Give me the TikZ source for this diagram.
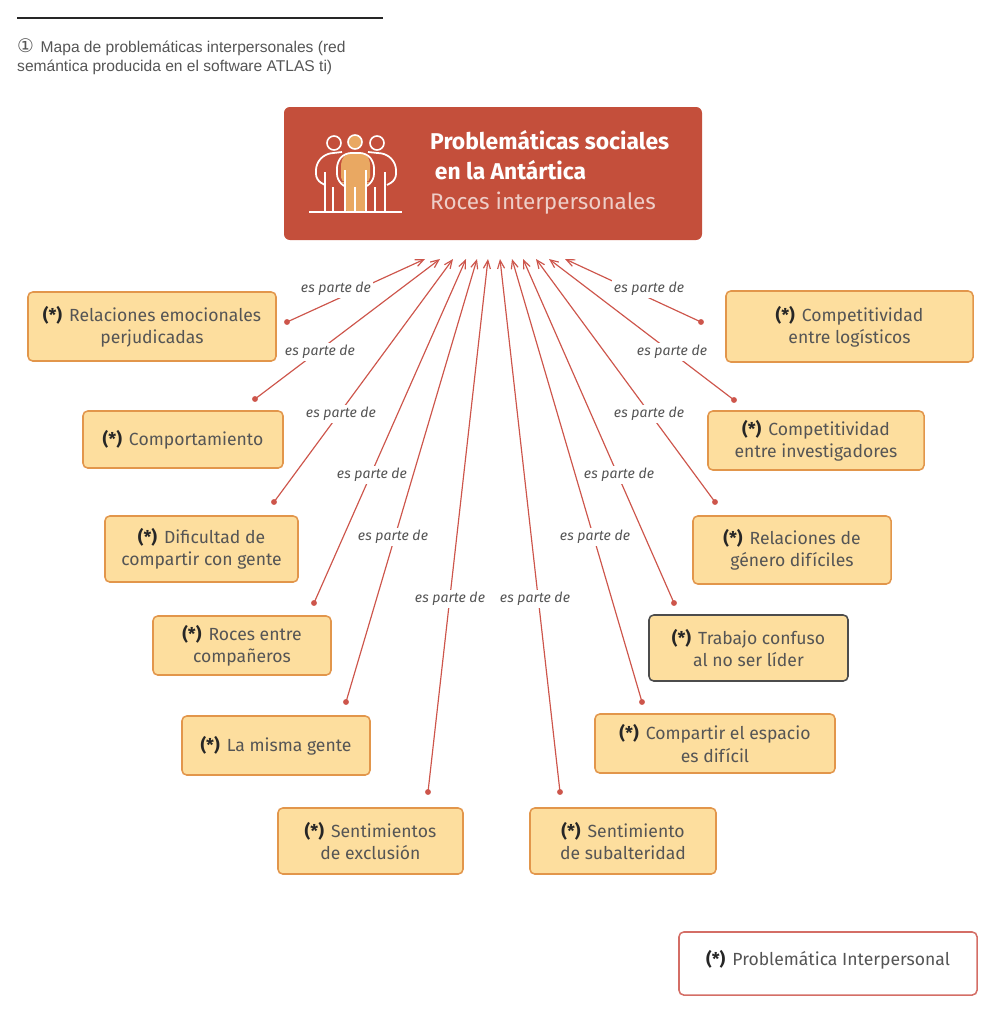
\documentclass[tikz,border=0pt]{standalone}
\usepackage{fontspec}
\setmainfont{Fira Sans}
\newfontfamily\captionfont{Liberation Sans}
\newfontfamily\symbolfont{DejaVu Sans}
\definecolor{brick}{RGB}{196, 79, 59}
\definecolor{linkred}{RGB}{205, 85, 75}
\definecolor{sand}{RGB}{253, 222, 158}
\definecolor{sandline}{RGB}{226, 150, 75}
\definecolor{figure}{RGB}{233, 168, 98}
\definecolor{ink}{RGB}{85, 85, 85}
\usetikzlibrary{arrows.meta}
\newcommand{\prob}{\textbf{\textcolor{black!85}{(*)}}\hspace{2pt}}
\tikzset{
    issue/.style={draw=sandline, fill=sand, line width=1.3pt, rounded corners=4pt, align=center,
        text=ink, font=\fontsize{15}{19}\selectfont, inner sep=0pt, outer sep=0pt},
    link/.style={draw=linkred, line width=1pt, -{Straight Barb[length=7pt,width=6pt]}},
    linkdot/.style={circle, fill=linkred, inner sep=0pt, minimum size=5pt},
    linklabel/.style={fill=white, text=ink, inner sep=2pt, font=\fontsize{12}{14}\selectfont\itshape},
    person/.style={draw=white, line width=1.5pt, rounded corners=5pt},
    limb/.style={draw=white, line width=1.4pt}
}

\begin{document}
\begin{tikzpicture}[x=0.03cm, y=-0.03cm]
    \useasboundingbox (0,0) rectangle (999,1009);

    % Caption
    \draw[line width=1pt, black!85] (17,18) -- (383,18);
    \node (caption) [anchor=north west, align=left, inner sep=0pt, text=ink, font=\fontsize{13.3}{17}\captionfont]
        at (17,38) {{\symbolfont\fontsize{16}{17}\selectfont ①}\hspace{2pt} Mapa de problemáticas interpersonales (red\\semántica producida en el software ATLAS ti)};

    % Title box
    \node (title) [fill=brick, rounded corners=5pt, minimum width=418*0.03cm, minimum height=133*0.03cm] at (493,173.5) {};
    \node (titletext) [anchor=north west, align=left, inner sep=0pt, text=white, font=\fontsize{19.5}{25.5}\selectfont]
        at (430,130) {\textbf{Problemáticas sociales}\\\hspace{4pt}\textbf{en la Antártica}\\\textcolor{white!72!brick}{\fontsize{19.2}{25.5}\selectfont Roces interpersonales}};

    % People icon
    \begin{scope}
        \foreach \hx/\hy in {334/143, 377/143} {
            \draw[limb] (\hx,\hy) circle (7);
        }
        \draw[limb] (325,212) -- (325,172);
        \draw[person] (325,185) -- (316,180) -- (316,164) -- (325,154) -- (342,152);
        \draw[limb] (385,212) -- (385,172);
        \draw[person] (368,152) -- (387,154) -- (396,164) -- (396,180) -- (387,185);
        \foreach \lx in {333, 375} {
            \draw[limb] (\lx,212) -- (\lx,187);
        }
        \fill[figure, rounded corners=4pt] (345,212) -- (345,182) -- (341,182) -- (341,160) -- (347,153) -- (365,153) -- (370,160) -- (370,182) -- (366,182) -- (366,212) -- cycle;
        \draw[person] (344,186) -- (337,180) -- (337,162) -- (345,153) -- (366,153) -- (374,162) -- (374,180) -- (367,186);
        \fill[figure] (355,142) circle (7);
        \draw[limb] (355,142) circle (7);
        \draw[limb] (355,212) -- (355,187);
        \draw[limb] (345,212) -- (345,170);
        \draw[limb] (366,212) -- (366,170);
        \draw[limb] (309,212) -- (402,212);
    \end{scope}

    % Links
    \foreach \i/\xd/\yd/\xt/\xl/\yl in {1/287/322/425/336/289, 2/255/399/440/320/352, 3/274/502/453/341/414,
        4/314/603/466/372/475, 5/346/702/477/393/537, 6/428/792/488/450/599, 7/560/792/500/535/599,
        8/642/702/512/595/537, 9/674/603/523/619/475, 10/715/502/536/649/414, 11/734/400/549/672/352, 12/701/322/565/649/289} {
        \node (dot\i) [linkdot] at (\xd,\yd) {};
        \coordinate (tip\i) at (\xt,259);
        \draw[link] (dot\i.center) -- (tip\i);
        \node (lbl\i) [linklabel] at (\xl,\yl) {es parte de};
    }

    % Problem boxes
    \foreach \n/\l/\t/\r/\b/\txt in {
        rel/28/292/276/361/{\prob{} Relaciones emocionales\\perjudicadas},
        comp/83/411/283/468/{\prob{} Comportamiento},
        dif/105/516/298/582/{\prob{} Dificultad de\\compartir con gente},
        roc/153/616/331/675/{\prob{} Roces entre\\compañeros},
        mis/182/716/370/775/{\prob{} La misma gente},
        exc/278/808/463/874/{\prob{} Sentimientos\\de exclusión},
        sub/530/808/716/874/{\prob{} Sentimiento\\de subalteridad},
        esp/595/714/835/773/{\prob{} Compartir el espacio\\es difícil},
        gen/693/516/891/584/{\prob{} Relaciones de\\género difíciles},
        inv/708/411/924/470/{\prob{} Competitividad\\entre investigadores},
        log/726/291/973/362/{\prob{} Competitividad\\entre logísticos}} {
        \node (\n) [issue, minimum width=(\r-\l)*0.03cm, minimum height=(\b-\t)*0.03cm] at ({(\l+\r)/2},{(\t+\b)/2}) {\txt};
    }
    \node (lid) [issue, draw=black!70, minimum width=199*0.03cm, minimum height=66*0.03cm] at (748.5,648) {\prob{} Trabajo confuso\\al no ser líder};

    % Legend
    \node (legend) [issue, fill=white, draw=linkred!85, minimum width=298*0.03cm, minimum height=63*0.03cm] at (828,963.5) {\raisebox{-1.7pt}[0pt][0pt]{\prob{} Problemática Interpersonal}};
\end{tikzpicture}
\end{document}
